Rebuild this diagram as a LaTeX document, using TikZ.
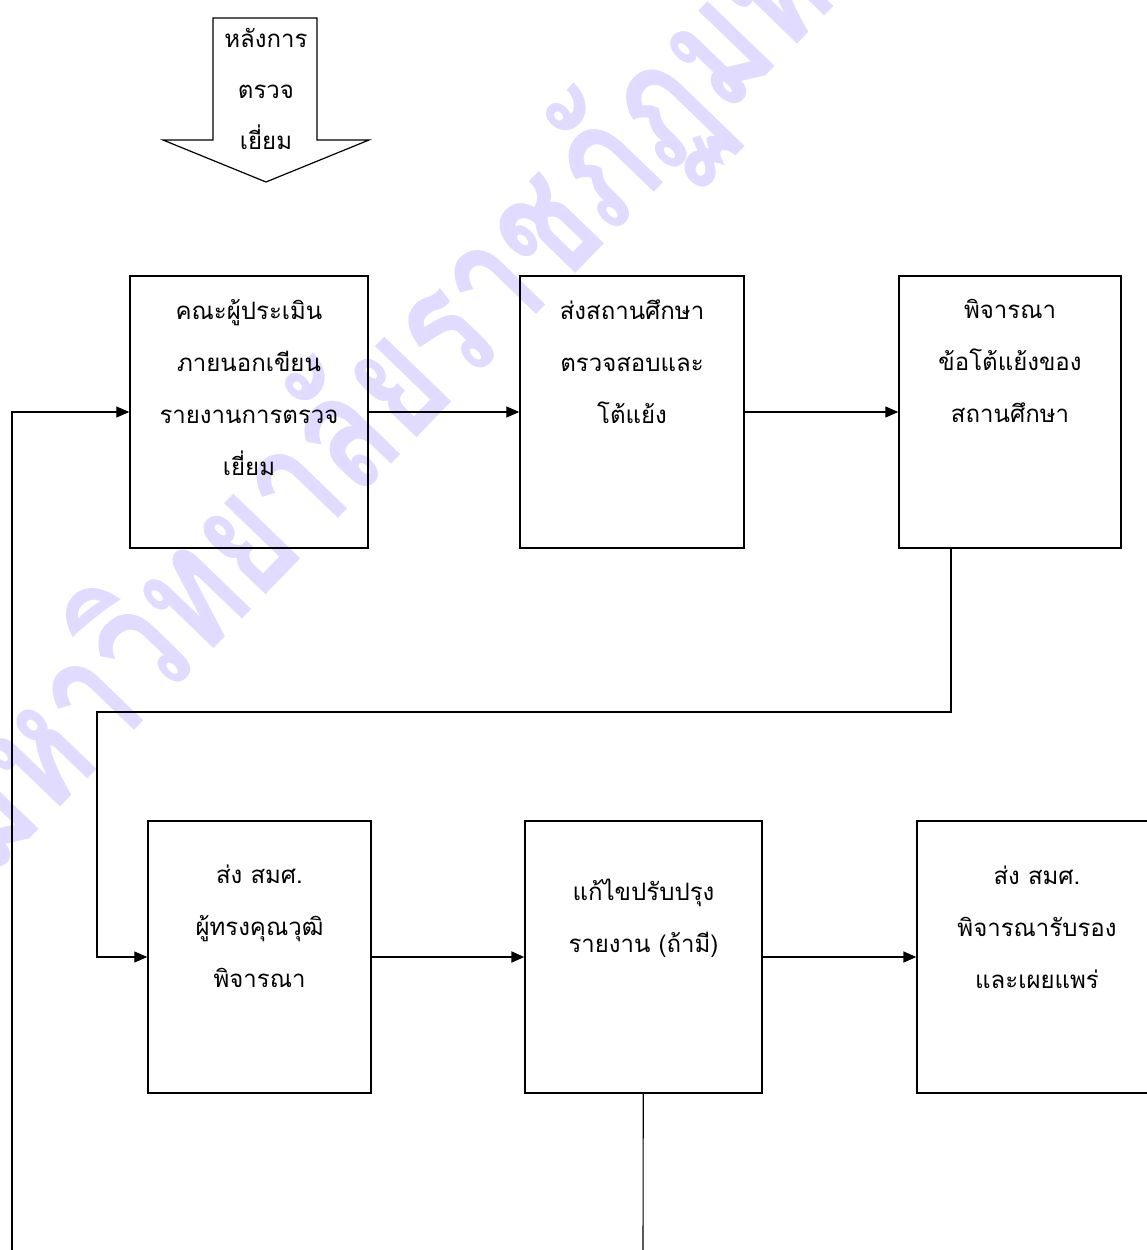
\documentclass[tikz,border=0pt]{standalone}
\usepackage{fontspec}
\newfontfamily\thaifont[Script=Thai]{Loma}
\usepackage{tikz}
\usetikzlibrary{arrows.meta,positioning,calc}
\tikzstyle{box}=[draw=black, line width=1.4, inner sep=0pt, minimum height=272]
\tikzstyle{txt}=[align=center, inner sep=0pt, font=\thaifont\fontsize{24}{52}\selectfont]
\tikzstyle{l1}=[line width=1.1]
\tikzstyle{arr}=[-{Triangle[length=13pt, width=11pt]}]
\usepackage{xcolor}
\definecolor{mlavender}{HTML}{E0DBFF}

\begin{document}
\begin{tikzpicture}[x=1pt, y=-1pt]
    \useasboundingbox (0,0) rectangle (1146,1250);

    % watermark
    \node[rotate=46, yscale=1.35, anchor=base west, text=mlavender, inner sep=0pt, font=\thaifont\bfseries\fontsize{124}{124}\selectfont] at (-10,880) (mark) {มหาวิทยาลัยราชภัฏมหาสารคาม};

    % start arrow
    \draw[line width=1.2] (213,18) -- (317,18) -- (317,140) -- (369,140) -- (266,182) -- (163,140) -- (213,140) -- cycle;
    \node[txt, font=\thaifont\fontsize{24}{51}\selectfont] at (266,89) (0) {หลังการ\\ตรวจ\\เยี่ยม};

    % first row
    \node[box, minimum width=238] at (249,412) (1) {};
    \node[box, minimum width=224] at (632,412) (2) {};
    \node[box, minimum width=222] at (1010,412) (3) {};
    \node[txt, anchor=north] at ([yshift=-24pt]1.north) (t1) {คณะผู้ประเมิน\\ภายนอกเขียน\\รายงานการตรวจ\\เยี่ยม};
    \node[txt, anchor=north] at ([yshift=-24pt]2.north) (t2) {ส่งสถานศึกษา\\ตรวจสอบและ\\โต้แย้ง};
    \node[txt, anchor=north] at ([yshift=-24pt]3.north) (t3) {พิจารณา\\ข้อโต้แย้งของ\\สถานศึกษา};

    % second row
    \node[box, minimum width=223] at (259.5,957) (4) {};
    \node[box, minimum width=237] at (643.5,957) (5) {};
    \node[box, minimum width=240] at (1037,957) (6) {};
    \node[txt, anchor=north] at ([yshift=-44.5pt]4.north) (t4) {ส่ง สมศ.\\ผู้ทรงคุณวุฒิ\\พิจารณา};
    \node[txt, anchor=north] at ([yshift=-58.5pt]5.north) (t5) {แก้ไขปรับปรุง\\รายงาน (ถ้ามี)};
    \node[txt, anchor=north] at ([yshift=-45.5pt]6.north) (t6) {ส่ง สมศ.\\พิจารณารับรอง\\และเผยแพร่};

    \coordinate (in) at (12,1250);
    \coordinate (out) at (643,1250);

    \draw[l1, arr] (in) |- (1);
    \draw[l1, arr] (1) -- (2);
    \draw[l1, arr] (2) -- (3);
    \draw[l1, arr] ([xshift=-59pt]3.south) |- (97,712) |- (4);
    \draw[line width=2, arr] (4) -- (5);
    \draw[line width=1.5, arr] (5) -- (6);
    \draw[l1] (5) -- (out);

\end{tikzpicture}
\end{document}
